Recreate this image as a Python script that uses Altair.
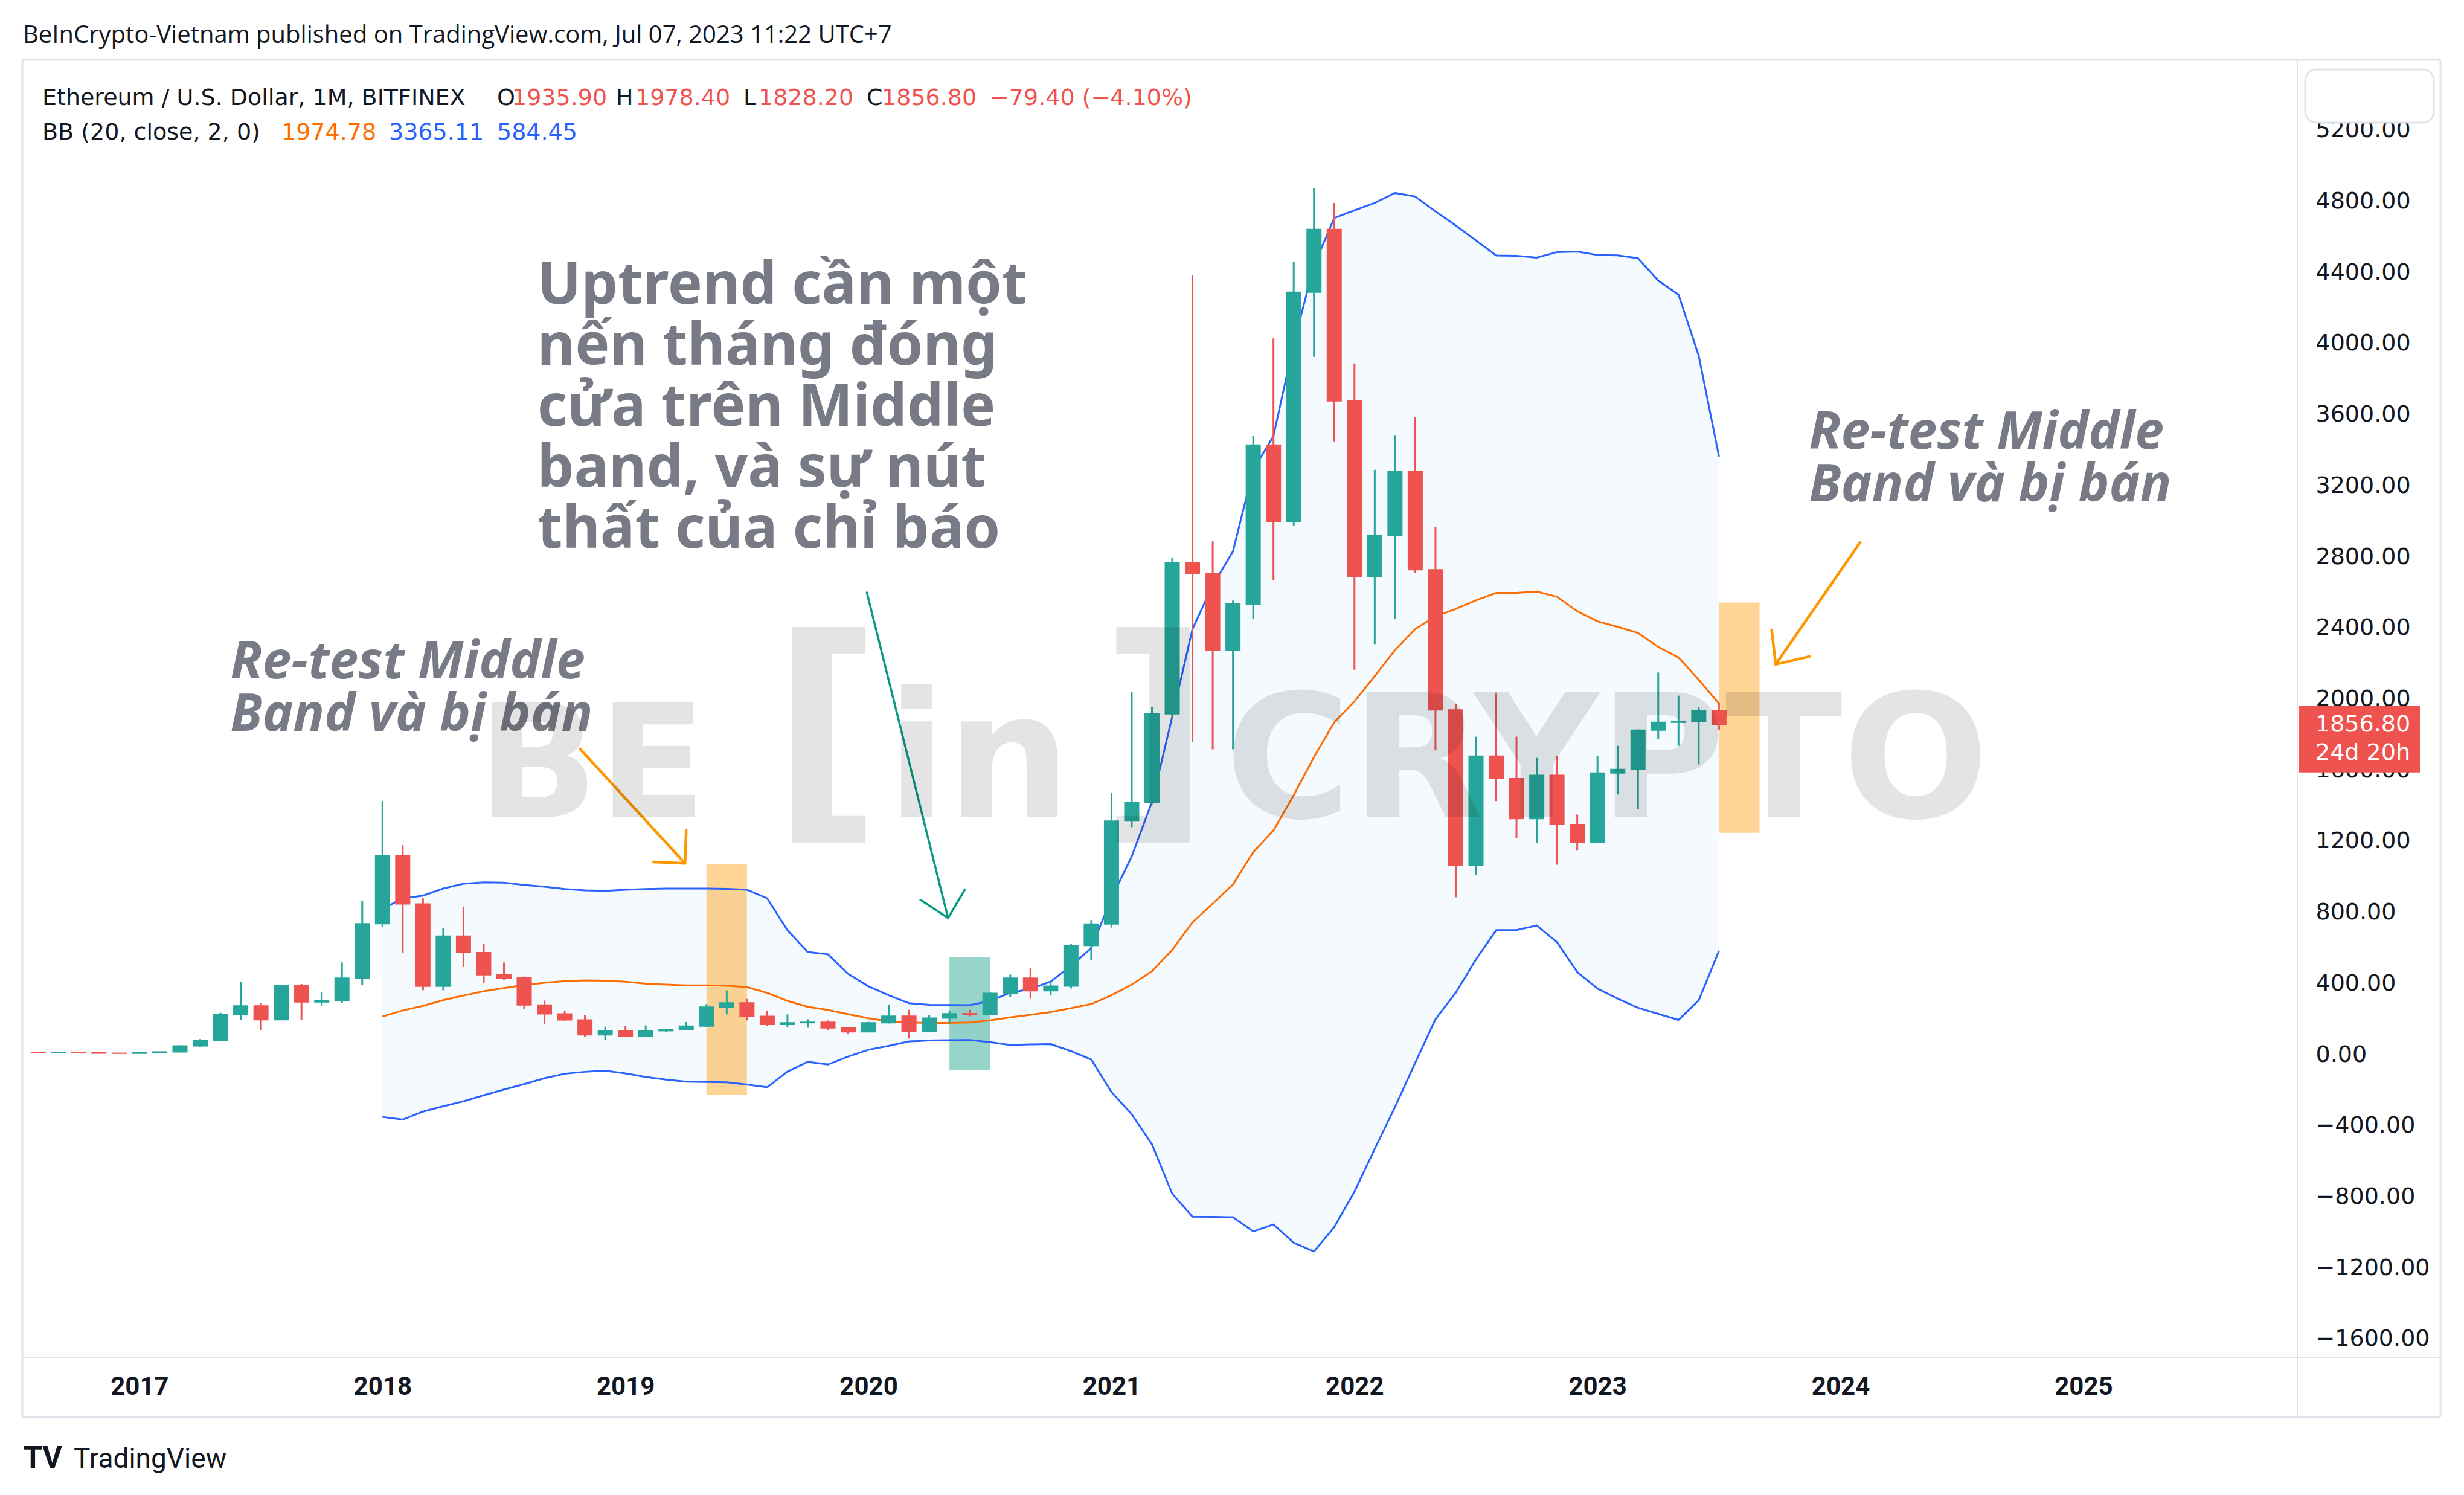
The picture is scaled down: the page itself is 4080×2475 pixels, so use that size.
import json
import altair as alt
import pandas as pd

# ---------------- data (monthly ETH/USD, Bitfinex) ----------------
months = [str(p) for p in pd.period_range("2016-08", "2023-07", freq="M")]

opens = [12.0, 11.6, 13.2, 11.3, 8.6, 8.0, 10.7, 16.0, 50, 80,
         225, 275, 197, 390, 297, 305, 431, 737, 1119, 848,
         385, 667, 575, 450, 432, 280, 230, 196, 112, 134,
         106, 135, 141, 161, 268, 292, 216, 170, 180, 183,
         151, 129, 180, 217, 133, 206, 231, 225, 345, 431,
         360, 386, 615, 735, 1315, 1417, 1918, 2770, 2705, 2275,
         2535, 3430, 3000, 4290, 4643, 3678, 2688, 2920, 3280, 2728,
         1940, 1067, 1680, 1553, 1328, 1572, 1295, 1196, 1585, 1605,
         1826, 1870, 1873, 1935.90]
highs = [12.3, 14.6, 13.3, 11.6, 9.0, 11.5, 16.6, 53, 88, 236,
         411, 290, 395, 398, 353, 519, 864, 1427, 1179, 880,
         714, 834, 626, 519, 440, 305, 245, 223, 158, 160,
         165, 145, 184, 285, 362, 314, 245, 227, 200, 193,
         156, 185, 283, 253, 224, 245, 253, 350, 451, 489,
         417, 622, 757, 1475, 2040, 1955, 2798, 4384, 2888, 2555,
         3480, 4030, 4462, 4877, 4792, 3889, 3291, 3486, 3585, 2967,
         1972, 1789, 2037, 1789, 1670, 1681, 1351, 1681, 1738, 1830,
         2150, 2020, 1957, 1978.40]
lows = [9.9, 11.3, 10.5, 8.3, 6.9, 7.9, 10.4, 16.0, 43, 77,
        196, 138, 195, 197, 275, 290, 392, 720, 571, 363,
        363, 493, 405, 420, 255, 171, 188, 102, 82, 101,
        102, 127, 140, 155, 227, 193, 163, 153, 152, 138,
        117, 127, 176, 91, 129, 176, 216, 222, 326, 315,
        335, 373, 531, 715, 1280, 1410, 1888, 1760, 1718, 1718,
        2452, 2668, 2978, 3926, 3450, 2166, 2310, 2452, 2710, 1712,
        886, 1013, 1427, 1219, 1190, 1069, 1148, 1190, 1464, 1380,
        1775, 1738, 1633, 1828.20]
closes = [11.6, 13.2, 11.3, 8.6, 8.0, 10.7, 16.0, 50, 80, 225,
          275, 197, 390, 297, 305, 431, 737, 1119, 848, 385,
          667, 575, 450, 432, 280, 230, 196, 112, 134, 106,
          135, 141, 161, 268, 292, 216, 170, 180, 183, 151,
          129, 180, 217, 133, 206, 231, 225, 345, 431, 360,
          386, 615, 735, 1315, 1417, 1918, 2770, 2705, 2275, 2535,
          3430, 3000, 4290, 4643, 3678, 2688, 2920, 3280, 2728, 1940,
          1067, 1680, 1553, 1328, 1572, 1295, 1196, 1585, 1605, 1826,
          1870, 1873, 1935.90, 1856.80]

# Bollinger Bands (20, close, 2) from 2018-01 to 2023-07
bb_first_month = "2018-01"
bb_upper = [820, 880, 895, 935, 962, 970, 968, 955, 945, 932,
            925, 922, 928, 932, 935, 935, 935, 933, 928, 880,
            700, 578, 565, 455, 385, 335, 290, 281, 280, 279,
            302, 349, 370, 412, 500, 600, 880, 1116, 1422, 1901,
            2395, 2640, 2832, 3290, 3481, 4000, 4440, 4707, 4750, 4792,
            4848, 4828, 4744, 4665, 4581, 4496, 4494, 4484, 4515, 4518,
            4499, 4497, 4481, 4355, 4276, 3932, 3365.11]
bb_middle = [215, 249, 275, 307, 333, 357, 375, 392, 405, 414,
             418, 417, 411, 400, 395, 390, 390, 389, 380, 348,
             303, 270, 252, 228, 205, 188, 181, 179, 179, 181,
             193, 210, 225, 240, 262, 285, 335, 395, 470, 590,
             745, 850, 958, 1140, 1262, 1460, 1675, 1870, 1988, 2130,
             2276, 2395, 2466, 2508, 2556, 2598, 2598, 2606, 2576, 2495,
             2438, 2407, 2373, 2294, 2235, 2110, 1974.78]
bb_lower = [-350, -365, -320, -290, -262, -228, -196, -165, -132, -107,
            -96, -90, -105, -125, -140, -152, -153, -155, -168, -183,
            -95, -40, -55, -10, 28, 50, 75, 80, 82, 83,
            71, 55, 58, 60, 20, -27, -210, -335, -504, -782,
            -911, -912, -914, -994, -955, -1058, -1107, -970, -770, -530,
            -295, -45, 200, 349, 536, 701, 701, 727, 633, 465,
            372, 315, 264, 230, 196, 306, 584.45]

year_labels = ["2017", "2018", "2019", "2020", "2021", "2022", "2023", "2024", "2025"]
price_ticks = list(range(-1600, 5201, 400))

# highlighted zones (month range, price range)
zone_months = [("2019-05", "2019-07"), ("2020-05", "2020-07"), ("2023-07", "2023-09")]
zone_prices = [(1071, -226), (551, -87), (2544, 1248)]
zone_colors = ["#FF9800", "#089981", "#FF9800"]

# ---------------- helpers ----------------
def midx(s):
    y, m = s.split("-")
    return (int(y) - 2016) * 12 + int(m) - 8

UP, DOWN = "#26A69A", "#EF5350"
BLUE, ORANGE = "#2962FF", "#FF6D00"
GRAY_TXT = "#787B86"
DARK = "#131722"
FRAME = "#E0E3EB"
UIFONT = "DejaVu Sans"

W, H = 3767, 2148
xs = alt.Scale(domain=[-0.634, 111.41], nice=False, zero=False)
ys = alt.Scale(domain=[-1702, 5597], nice=False, zero=False)

year_idx = [midx(f"{y}-01") for y in year_labels]
xaxis = alt.Axis(values=year_idx, title=None, grid=False, ticks=False, domain=False,
                 labelExpr=f"{json.dumps(year_labels)}[round((datum.value - {year_idx[0]}) / 12)]",
                 labelFont="Roboto", labelFontSize=42, labelFontWeight="bold", labelColor=DARK,
                 labelPadding=61, labelBaseline="alphabetic", labelFlush=False, labelOverlap=False,
                 labelLimit=0)
yaxis = alt.Axis(values=price_ticks, title=None, grid=False, ticks=False, domain=False,
                 orient="right", format=".2f", labelFont=UIFONT, labelFontSize=38,
                 labelColor=DARK, labelPadding=30, labelAlign="left", labelBaseline="middle",
                 labelFlush=False, labelOverlap=False, labelLimit=0)


def X(f):
    return alt.X(f, type="quantitative", scale=xs, axis=xaxis)


def Y(f):
    return alt.Y(f, type="quantitative", scale=ys, axis=yaxis)


candles = pd.DataFrame({"i": [midx(m) for m in months], "month": months,
                        "open": opens, "high": highs, "low": lows, "close": closes})
candles["dir"] = ["up" if c >= o else "down" for o, c in zip(opens, closes)]

b0 = midx(bb_first_month)
bb = pd.DataFrame({"i": list(range(b0, b0 + len(bb_upper))),
                   "upper": bb_upper, "middle": bb_middle, "lower": bb_lower})

zones = pd.DataFrame({
    "x1": [midx(a) for a, b in zone_months],
    "x2": [midx(b) for a, b in zone_months],
    "p1": [a for a, b in zone_prices],
    "p2": [b for a, b in zone_prices],
    "c": zone_colors,
})

dirscale = alt.Scale(domain=["up", "down"], range=[UP, DOWN])

layers = []
# band fill
layers.append(alt.Chart(bb).mark_area(color="#2196F3", opacity=0.05).encode(
    x=X("i"), y=Y("upper"), y2="lower"))
# highlight zones
layers.append(alt.Chart(zones).mark_rect(opacity=0.42).encode(
    x=X("x1"), x2="x2", y=Y("p1"), y2="p2", color=alt.Color("c:N", scale=None)))
# band lines
for f, col in [("upper", BLUE), ("lower", BLUE), ("middle", ORANGE)]:
    layers.append(alt.Chart(bb).mark_line(color=col, strokeWidth=3).encode(x=X("i"), y=Y(f)))
# candles
layers.append(alt.Chart(candles).mark_rule(strokeWidth=3).encode(
    x=X("i"), y=Y("low"), y2="high", color=alt.Color("dir:N", scale=dirscale, legend=None)))
layers.append(alt.Chart(candles).mark_bar(width=23, strokeWidth=2).encode(
    x=X("i"), y=Y("open"), y2="close",
    color=alt.Color("dir:N", scale=dirscale, legend=None),
    stroke=alt.Stroke("dir:N", scale=dirscale, legend=None)))

# arrows (in data coordinates: month index, price)
arrow_rows = []
def add_arrow(name, pts, color, w):
    for k, (xi, p) in enumerate(pts):
        arrow_rows.append({"seg": name, "ord": k, "i": xi, "p": p, "c": color, "w": w})

add_arrow("o1s", [(26.76, 1720), (31.94, 1077)], "#FF9800", 4.5)
add_arrow("o1h", [(32.0, 1264), (31.94, 1077), (30.39, 1084)], "#FF9800", 4.5)
add_arrow("o2s", [(89.97, 2882), (85.8, 2196)], "#FF9800", 4.5)
add_arrow("o2h", [(87.47, 2240), (85.8, 2196), (85.6, 2389)], "#FF9800", 4.5)
add_arrow("g1s", [(40.92, 2600), (44.93, 769)], "#089981", 3.5)
add_arrow("g1h", [(43.57, 871), (44.93, 769), (45.76, 929)], "#089981", 3.5)
arrows = pd.DataFrame(arrow_rows)
layers.append(alt.Chart(arrows).mark_line(strokeCap="round", strokeJoin="round").encode(
    x=X("i"), y=Y("p"), detail="seg:N", order="ord:Q",
    color=alt.Color("c:N", scale=None), strokeWidth=alt.StrokeWidth("w:Q", scale=None)))


def dtext(xi, price, s, **kw):
    return alt.Chart(pd.DataFrame({"i": [xi], "p": [price], "t": [s]})).mark_text(**kw).encode(
        x=X("i"), y=Y("p"), text="t:N")


def ptext(x, y, s, color=DARK, size=38, weight="normal", font=UIFONT, align="left",
          baseline="alphabetic", dy=0):
    return alt.Chart(pd.DataFrame({"t": [s]})).mark_text(
        align=align, baseline=baseline, font=font, fontSize=size, fontWeight=weight,
        color=color, dy=dy).encode(x=alt.value(x), y=alt.value(y), text="t:N")


# annotations
layers.append(dtext(24.65, 4224,
                    "Uptrend cần một\nnến tháng đóng\ncửa trên Middle\nband, và sự nút\nthất của chỉ báo",
                    align="left", baseline="alphabetic", font="Noto Sans", fontSize=96,
                    fontWeight="bold", color=GRAY_TXT, lineBreak="\n", lineHeight=101))
for xi, p in [(9.48, 2119), (87.44, 3410)]:
    layers.append(dtext(xi, p, "Re-test Middle\nBand và bị bán", align="left", baseline="alphabetic",
                        font="Noto Sans", fontSize=86, fontWeight="bold", fontStyle="italic",
                        color=GRAY_TXT, lineBreak="\n", lineHeight=87))

# watermark
wm = dict(baseline="alphabetic", font="DejaVu Sans", fontWeight="bold", color="#000000", opacity=0.1)
layers.append(dtext(21.7, 1336, "BE", align="left", fontSize=262, **wm))
layers.append(dtext(36.19, 1373, "[", align="left", fontSize=400, **wm))
layers.append(dtext(46.45, 1336, "in", align="center", fontSize=290, **wm))
layers.append(dtext(52.43, 1373, "]", align="left", fontSize=400, **wm))
layers.append(dtext(58.6, 1336, "CRYPTO", align="left", fontSize=285, **wm))

# legend / header text
layers.append(ptext(1, -28, "BeInCrypto-Vietnam published on TradingView.com, Jul 07, 2023 11:22 UTC+7",
                    size=40, font="Open Sans"))
hdr = [(33, "Ethereum / U.S. Dollar, 1M, BITFINEX", DARK),
       (786, "O", DARK), (811, "1935.90", DOWN),
       (983, "H", DARK), (1015, "1978.40", DOWN),
       (1194, "L", DARK), (1219, "1828.20", DOWN),
       (1398, "C", DARK), (1423, "1856.80", DOWN),
       (1602, "−79.40 (−4.10%)", DOWN)]
for x, s, c in hdr:
    layers.append(ptext(x, 75, s, color=c, size=38))
for x, s, c in [(33, "BB (20, close, 2, 0)", DARK), (429, "1974.78", ORANGE),
                (607, "3365.11", BLUE), (786, "584.45", BLUE)]:
    layers.append(ptext(x, 132, s, color=c, size=38))

# frame
def rule(x1, y1, x2, y2, color=FRAME, w=3):
    return alt.Chart(pd.DataFrame({"a": [0]})).mark_rule(color=color, strokeWidth=w).encode(
        x=alt.value(x1), x2=alt.value(x2), y=alt.value(y1), y2=alt.value(y2))

FR = 4004  # right frame edge
FB = 2247  # bottom frame edge
layers += [rule(0, 0, 0, FB), rule(0, 0, FR, 0), rule(FR, 0, FR, FB), rule(0, FB, FR, FB),
           rule(W, 0, W, FB, w=2), rule(0, H, FR, H, w=2)]

# top-right button box
layers.append(alt.Chart(pd.DataFrame({"a": [0]})).mark_rect(
    fill="white", stroke=FRAME, strokeWidth=3, cornerRadius=18).encode(
    x=alt.value(3780), x2=alt.value(3993), y=alt.value(16), y2=alt.value(104)))

# last price label on the price scale
last = pd.DataFrame({"top": [closes[-1] + 108], "bot": [closes[-1] - 269], "p": [closes[-1]],
                     "t1": [f"{closes[-1]:.2f}"], "t2": ["24d 20h"]})
layers.append(alt.Chart(last).mark_rect(color=DOWN).encode(
    x=alt.value(3769), x2=alt.value(3970), y=Y("top"), y2="bot"))
layers.append(alt.Chart(last).mark_text(align="left", baseline="middle", font=UIFONT, fontSize=38,
                                        color="white").encode(x=alt.value(3797), y=Y("p"), text="t1:N"))
layers.append(alt.Chart(last).mark_text(align="left", baseline="middle", font=UIFONT, fontSize=38,
                                        color="white", dy=47).encode(x=alt.value(3797), y=Y("p"), text="t2:N"))

# footer logo
layers.append(ptext(2, 2331, "TV", size=50, weight="bold", font="Roboto"))
layers.append(ptext(85, 2331, "TradingView", size=46, font="Roboto"))

chart = alt.layer(*layers).properties(
    width=W, height=H,
    padding={"left": 29, "top": 91, "right": 268, "bottom": 220},
    autosize=alt.AutoSizeParams(type="none"),
).configure(background="white").configure_view(stroke=None)

chart.save("out.html", embed_options={"renderer": "svg", "actions": False})
